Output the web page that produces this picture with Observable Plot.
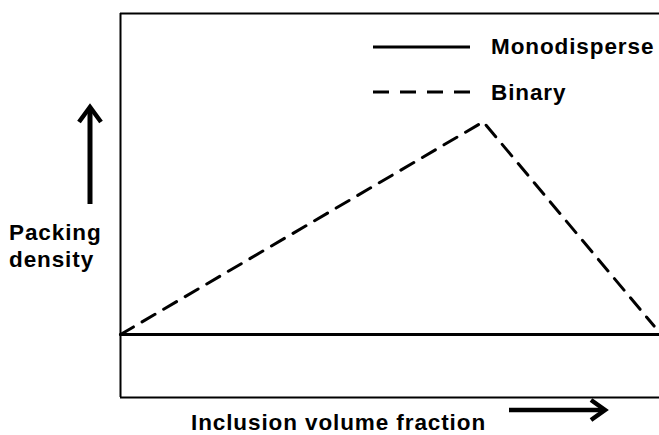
<!DOCTYPE html>
<html>
<head>
<meta charset="utf-8">
<script src="https://cdn.jsdelivr.net/npm/d3@7"></script>
<script src="https://cdn.jsdelivr.net/npm/@observablehq/plot@0.6"></script>
<style>
  html, body { margin: 0; padding: 0; background: #fff; }
  #wrap { position: relative; width: 659px; height: 435px; overflow: hidden; }
  #wrap svg { position: absolute; left: 0; top: 0; }
  .lbl { font-family: "Liberation Sans", Arial, sans-serif; font-weight: bold; font-size: 22.5px; letter-spacing: 0.9px; fill: #000; }
</style>
</head>
<body>
<div id="wrap"></div>
<script>
// Data (schematic, arbitrary units 0..1)
const monoX = [0, 1];
const monoY = [0.164, 0.164];
const binaryX = [0, 0.673, 0.99];
const binaryY = [0.164, 0.718, 0.186];
const seriesNames = ["Monodisperse", "Binary"];
const xLabel = "Inclusion volume fraction";
const yLabelLines = ["Packing", "density"];

const mono = monoX.map((x, i) => ({x, y: monoY[i]}));
const binary = binaryX.map((x, i) => ({x, y: binaryY[i]}));

const chart = Plot.plot({
  width: 659,
  height: 435,
  marginLeft: 120,
  marginRight: 0,
  marginTop: 13,
  marginBottom: 38,
  x: {domain: [0, 1], axis: null},
  y: {domain: [0, 1], axis: null},
  style: {background: "#fff", overflow: "visible"},
  marks: [
    Plot.ruleY([0, 1], {stroke: "#000", strokeWidth: 2}),
    Plot.ruleX([0], {stroke: "#000", strokeWidth: 2}),
    Plot.line(mono, {x: "x", y: "y", stroke: "#000", strokeWidth: 3}),
    Plot.line(binary, {x: "x", y: "y", stroke: "#000", strokeWidth: 3, strokeDasharray: "15,10"})
  ]
});

const wrap = document.getElementById("wrap");
wrap.appendChild(chart);

// Overlay: legend, axis labels and arrows
const ns = "http://www.w3.org/2000/svg";
const ov = document.createElementNS(ns, "svg");
ov.setAttribute("width", 659);
ov.setAttribute("height", 435);
ov.style.pointerEvents = "none";
function el(tag, attrs, text) {
  const e = document.createElementNS(ns, tag);
  for (const k in attrs) e.setAttribute(k, attrs[k]);
  if (text != null) e.textContent = text;
  ov.appendChild(e);
  return e;
}
// legend
el("line", {x1: 373, x2: 470, y1: 47, y2: 47, stroke: "#000", "stroke-width": 3});
el("text", {x: 491, y: 54, class: "lbl"}, seriesNames[0]);
el("line", {x1: 373, x2: 470, y1: 92, y2: 92, stroke: "#000", "stroke-width": 3, "stroke-dasharray": "16,11"});
el("text", {x: 491, y: 100, class: "lbl"}, seriesNames[1]);
// y label
el("text", {x: 9, y: 240, class: "lbl"}, yLabelLines[0]);
el("text", {x: 9, y: 267, class: "lbl"}, yLabelLines[1]);
// up arrow
el("line", {x1: 90, x2: 90, y1: 204, y2: 108, stroke: "#000", "stroke-width": 5});
el("polyline", {points: "79,122 90,107 101,122", fill: "none", stroke: "#000", "stroke-width": 4.5});
// x label
el("text", {x: 191, y: 430, class: "lbl"}, xLabel);
// right arrow
el("line", {x1: 509, x2: 603, y1: 410, y2: 410, stroke: "#000", "stroke-width": 4.5});
el("polyline", {points: "591,400 605,410 591,420", fill: "none", stroke: "#000", "stroke-width": 4.5});
wrap.appendChild(ov);
</script>
</body>
</html>
